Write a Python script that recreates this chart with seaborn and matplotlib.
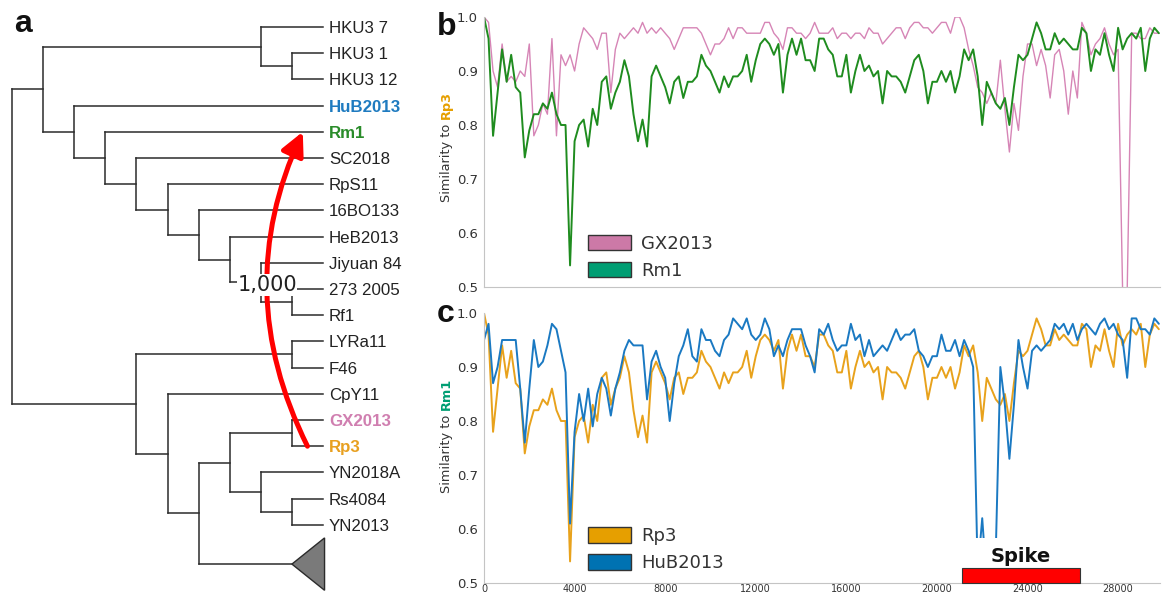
import numpy as np
import matplotlib
matplotlib.use("Agg")
import matplotlib.pyplot as plt
from matplotlib.patches import Patch, Polygon, Rectangle, FancyArrowPatch
import seaborn as sns

# ---------------- data ----------------
# tree (cladogram); leaves listed top to bottom, "collapsed" is the grey triangle
leaf_order = ["HKU3 7", "HKU3 1", "HKU3 12", "HuB2013", "Rm1", "SC2018", "RpS11",
              "16BO133", "HeB2013", "Jiyuan 84", "273 2005", "Rf1", "LYRa11", "F46",
              "CpY11", "GX2013", "Rp3", "YN2018A", "Rs4084", "YN2013"]
COLLAPSED = "collapsed"
tree = (
    (("HKU3 7", ("HKU3 1", "HKU3 12")),
     ("HuB2013", ("Rm1", ("SC2018", ("RpS11", ("16BO133", ("HeB2013",
         ("Jiyuan 84", ("273 2005", "Rf1"))))))))),
    (("LYRa11", "F46"),
     ("CpY11", ((("GX2013", "Rp3"), ("YN2018A", ("Rs4084", "YN2013"))), COLLAPSED))),
)
highlight = {"HuB2013": "#1f7bc0", "Rm1": "#2a8c2a", "GX2013": "#d07fb0", "Rp3": "#e8a020"}
bootstrap_label = "1,000"

# sliding window similarity, window start positions (bp)
window_pos = np.arange(0, 30000, 200)

gx2013_vs_rp3 = [
    1.00, 0.99, 0.90, 0.87, 0.95, 0.88, 0.89, 0.88, 0.90, 0.89,
    0.95, 0.78, 0.80, 0.84, 0.82, 0.96, 0.78, 0.93, 0.91, 0.93,
    0.90, 0.95, 0.98, 0.97, 0.96, 0.94, 0.97, 0.97, 0.86, 0.94,
    0.97, 0.96, 0.97, 0.98, 0.97, 0.99, 0.97, 0.98, 0.97, 0.98,
    0.97, 0.96, 0.94, 0.96, 0.98, 0.98, 0.98, 0.98, 0.97, 0.95,
    0.93, 0.95, 0.95, 0.96, 0.98, 0.96, 0.98, 0.98, 0.97, 0.97,
    0.97, 0.97, 0.99, 0.99, 0.97, 0.96, 0.94, 0.98, 0.98, 0.97,
    0.97, 0.96, 0.97, 0.99, 0.97, 0.97, 0.97, 0.98, 0.96, 0.97,
    0.97, 0.96, 0.97, 0.97, 0.96, 0.98, 0.97, 0.97, 0.95, 0.96,
    0.97, 0.98, 0.98, 0.96, 0.98, 0.99, 0.99, 0.98, 0.98, 0.97,
    0.98, 0.99, 0.99, 0.97, 1.00, 1.00, 0.98, 0.94, 0.91, 0.87,
    0.86, 0.84, 0.86, 0.84, 0.92, 0.83, 0.75, 0.84, 0.79, 0.89,
    0.95, 0.95, 0.91, 0.94, 0.91, 0.85, 0.93, 0.94, 0.90, 0.82,
    0.90, 0.85, 0.99, 0.97, 0.93, 0.95, 0.96, 0.98, 0.95, 0.93,
    0.94, 0.49, 0.49, 0.97, 0.97, 0.96, 0.96, 0.98, 0.97, 0.97,
]

# Rm1 vs Rp3 (same comparison shown in b and c)
rm1_vs_rp3 = [
    1.00, 0.96, 0.78, 0.86, 0.94, 0.88, 0.93, 0.87, 0.86, 0.74,
    0.79, 0.82, 0.82, 0.84, 0.83, 0.86, 0.82, 0.80, 0.80, 0.54,
    0.77, 0.80, 0.81, 0.76, 0.83, 0.80, 0.88, 0.89, 0.83, 0.86,
    0.88, 0.92, 0.89, 0.82, 0.77, 0.81, 0.76, 0.89, 0.91, 0.89,
    0.87, 0.84, 0.88, 0.89, 0.85, 0.88, 0.88, 0.89, 0.93, 0.91,
    0.90, 0.88, 0.86, 0.89, 0.87, 0.89, 0.89, 0.90, 0.93, 0.88,
    0.92, 0.95, 0.96, 0.95, 0.93, 0.95, 0.86, 0.93, 0.96, 0.93,
    0.96, 0.92, 0.92, 0.90, 0.96, 0.96, 0.94, 0.93, 0.89, 0.89,
    0.93, 0.86, 0.90, 0.93, 0.90, 0.91, 0.89, 0.90, 0.84, 0.90,
    0.89, 0.89, 0.88, 0.86, 0.89, 0.92, 0.93, 0.90, 0.84, 0.88,
    0.88, 0.90, 0.88, 0.90, 0.86, 0.89, 0.94, 0.92, 0.94, 0.89,
    0.80, 0.88, 0.86, 0.84, 0.83, 0.85, 0.80, 0.87, 0.93, 0.92,
    0.93, 0.96, 0.99, 0.97, 0.94, 0.94, 0.97, 0.95, 0.96, 0.95,
    0.94, 0.94, 0.98, 0.97, 0.90, 0.94, 0.93, 0.97, 0.93, 0.90,
    0.98, 0.94, 0.96, 0.97, 0.96, 0.98, 0.90, 0.96, 0.98, 0.97,
]

hub2013_vs_rm1 = [
    0.95, 0.98, 0.87, 0.90, 0.95, 0.95, 0.95, 0.95, 0.86, 0.76,
    0.86, 0.95, 0.90, 0.91, 0.94, 0.98, 0.97, 0.93, 0.89, 0.61,
    0.78, 0.85, 0.80, 0.86, 0.79, 0.85, 0.88, 0.86, 0.81, 0.86,
    0.89, 0.93, 0.95, 0.94, 0.94, 0.94, 0.84, 0.91, 0.93, 0.90,
    0.88, 0.80, 0.87, 0.92, 0.94, 0.97, 0.92, 0.91, 0.97, 0.95,
    0.95, 0.93, 0.92, 0.95, 0.96, 0.99, 0.98, 0.97, 0.99, 0.96,
    0.95, 0.96, 0.99, 0.97, 0.92, 0.94, 0.92, 0.95, 0.97, 0.97,
    0.97, 0.94, 0.92, 0.89, 0.97, 0.96, 0.98, 0.95, 0.93, 0.94,
    0.94, 0.98, 0.95, 0.96, 0.92, 0.95, 0.92, 0.93, 0.94, 0.93,
    0.95, 0.97, 0.95, 0.96, 0.96, 0.97, 0.93, 0.92, 0.90, 0.92,
    0.92, 0.96, 0.93, 0.93, 0.95, 0.92, 0.95, 0.93, 0.90, 0.52,
    0.62, 0.50, 0.48, 0.56, 0.90, 0.83, 0.73, 0.83, 0.95, 0.90,
    0.86, 0.93, 0.94, 0.93, 0.94, 0.95, 0.98, 0.97, 0.98, 0.96,
    0.98, 0.95, 0.97, 0.98, 0.97, 0.96, 0.98, 0.99, 0.97, 0.98,
    0.96, 0.95, 0.88, 0.99, 0.99, 0.97, 0.97, 0.96, 0.99, 0.98,
]

spike_start, spike_end = 21100, 26300
genome_len = 29850

# colours
pink_line, green_line = "#d685b6", "#1f8c1f"
orange_line, blue_line = "#e8a21c", "#1a79c2"
pink_patch, green_patch = "#cc79a7", "#009e73"
orange_patch, blue_patch = "#e69f00", "#0072b2"

# ---------------- style ----------------
sns.set_style("white")
plt.rcParams["font.family"] = ["DejaVu Sans"]
TXT = "#333333"

W, H = 1162, 596
fig = plt.figure(figsize=(W / 100, H / 100), dpi=100)


def fx(px):
    return px / W


def fy(py):
    return 1 - py / H


# ---------------- panel a: tree ----------------
ax_t = fig.add_axes([0, 0, fx(430), 1])
ax_t.axis("off")
tip_px, root_px, row0_px, row_h = 323, 12, 27, 26.2
ax_t.set_xlim(-root_px / (tip_px - root_px), (430 - root_px) / (tip_px - root_px))
ax_t.set_ylim((H - row0_px) / row_h, -row0_px / row_h)

leaf_y = {name: i for i, name in enumerate(leaf_order)}


def height(node):
    if node == COLLAPSED:
        return 1
    if isinstance(node, str):
        return 0
    return 1 + max(height(c) for c in node)


tree_h = height(tree)
line_kw = dict(color="#2b2b2b", lw=1.1, solid_capstyle="projecting", zorder=2)


def draw_node(node):
    if node == COLLAPSED:
        y = len(leaf_order) + 0.5
        x = 1 - 1 / tree_h
        ax_t.add_patch(Polygon([(x, y), (1.005, y - 1), (1.005, y + 1)], closed=True,
                               fc="#7a7a7a", ec="#2b2b2b", lw=1.0, zorder=2))
        return x, y
    if isinstance(node, str):
        return 1.0, leaf_y[node]
    kids = [draw_node(c) for c in node]
    x = 1 - height(node) / tree_h
    ys = [k[1] for k in kids]
    ax_t.plot([x, x], [min(ys), max(ys)], **line_kw)
    for kx, ky in kids:
        ax_t.plot([x, kx], [ky, ky], **line_kw)
    return x, sum(ys) / len(ys)


draw_node(tree)

for name in leaf_order:
    col = highlight.get(name, "#222222")
    ax_t.text(1.019, leaf_y[name], name, ha="left", va="center_baseline",
              fontsize=12.2, family="Liberation Sans",
              fontweight="bold" if name in highlight else "normal", color=col)

arrow = FancyArrowPatch((0.95, leaf_y["Rp3"]), (0.935, leaf_y["Rm1"]),
                        connectionstyle="arc3,rad=-0.24",
                        arrowstyle="-|>,head_length=0.7,head_width=0.35",
                        mutation_scale=20, lw=3.6, color="#ff0000",
                        shrinkA=0, shrinkB=0, zorder=3)
ax_t.add_patch(arrow)
ax_t.text(0.82, 9.85, bootstrap_label, ha="center", va="center", fontsize=15,
          color="#222222", zorder=5,
          bbox=dict(fc="white", ec="none", pad=0.5))

# ---------------- panels b and c ----------------
ax_b = fig.add_axes([fx(484), fy(287), fx(676), (287 - 17) / H])
ax_c = fig.add_axes([fx(484), fy(583), fx(676), (583 - 313) / H])

sns.lineplot(x=window_pos, y=gx2013_vs_rp3, ax=ax_b, color=pink_line, lw=1.0)
sns.lineplot(x=window_pos, y=rm1_vs_rp3, ax=ax_b, color=green_line, lw=1.4)
sns.lineplot(x=window_pos, y=rm1_vs_rp3, ax=ax_c, color=orange_line, lw=1.4)
sns.lineplot(x=window_pos, y=hub2013_vs_rm1, ax=ax_c, color=blue_line, lw=1.4)

for ax in (ax_b, ax_c):
    ax.set_xlim(0, genome_len)
    ax.set_ylim(0.5, 1.0)
    ax.set_yticks(np.arange(0.5, 1.01, 0.1))
    ax.set_yticklabels([f"{v:.1f}" for v in np.arange(0.5, 1.01, 0.1)])
    ax.set_xticks(np.arange(0, 28001, 4000))
    sns.despine(ax=ax)
    for s in ("left", "bottom"):
        ax.spines[s].set_color("#c4c4c4")
        ax.spines[s].set_linewidth(0.8)
    ax.tick_params(axis="y", length=2.5, width=0.6, color="#b0b0b0",
                   labelcolor=TXT, pad=2, labelsize=9.5)
    ax.tick_params(axis="x", length=0, labelcolor=TXT, pad=1, labelsize=7.0)
    ax.set_xlabel("")
    ax.set_ylabel("")
ax_b.tick_params(axis="x", labelbottom=False)

# y labels with coloured genome names
ax_b.text(-0.055, 0.605, "Similarity to", rotation=90, ha="center", va="top",
          transform=ax_b.transAxes, fontsize=9.3, color=TXT)
ax_b.text(-0.055, 0.621, "Rp3", rotation=90, ha="center", va="bottom",
          transform=ax_b.transAxes, fontsize=9.3, color=orange_patch, fontweight="bold")
ax_c.text(-0.055, 0.624, "Similarity to", rotation=90, ha="center", va="top",
          transform=ax_c.transAxes, fontsize=9.3, color=TXT)
ax_c.text(-0.055, 0.640, "Rm1", rotation=90, ha="center", va="bottom",
          transform=ax_c.transAxes, fontsize=9.3, color=green_patch, fontweight="bold")

leg_kw = dict(loc="upper left", frameon=False, fontsize=13, handlelength=2.4,
              handleheight=0.95, handletextpad=0.55, labelspacing=0.5,
              borderpad=0, borderaxespad=0, labelcolor=TXT)
ax_b.legend(handles=[Patch(fc=pink_patch, ec="#333333", lw=1, label="GX2013"),
                     Patch(fc=green_patch, ec="#333333", lw=1, label="Rm1")],
            bbox_to_anchor=(0.154, 0.193), **leg_kw)
ax_c.legend(handles=[Patch(fc=orange_patch, ec="#333333", lw=1, label="Rp3"),
                     Patch(fc=blue_patch, ec="#333333", lw=1, label="HuB2013")],
            bbox_to_anchor=(0.154, 0.207), **leg_kw)

# spike annotation
ax_c.add_patch(Rectangle((spike_start, 0.528), spike_end - spike_start, 0.055,
                         fc="white", ec="none", zorder=4))
ax_c.add_patch(Rectangle((spike_start, 0.5), spike_end - spike_start, 0.028,
                         fc="#ff0000", ec="#333333", lw=0.8, zorder=5, clip_on=False))
ax_c.text((spike_start + spike_end) / 2, 0.538, "Spike", ha="center", va="baseline",
          fontsize=14, fontweight="bold", color="#111111", zorder=6)

# panel letters
for letter, px, py in (("a", 14, 32), ("b", 437, 35), ("c", 437, 322)):
    fig.text(fx(px), fy(py), letter, fontsize=23, fontweight="bold",
             family="Liberation Sans", va="baseline", ha="left", color="#111111")

fig.savefig("out.png", dpi=100)
